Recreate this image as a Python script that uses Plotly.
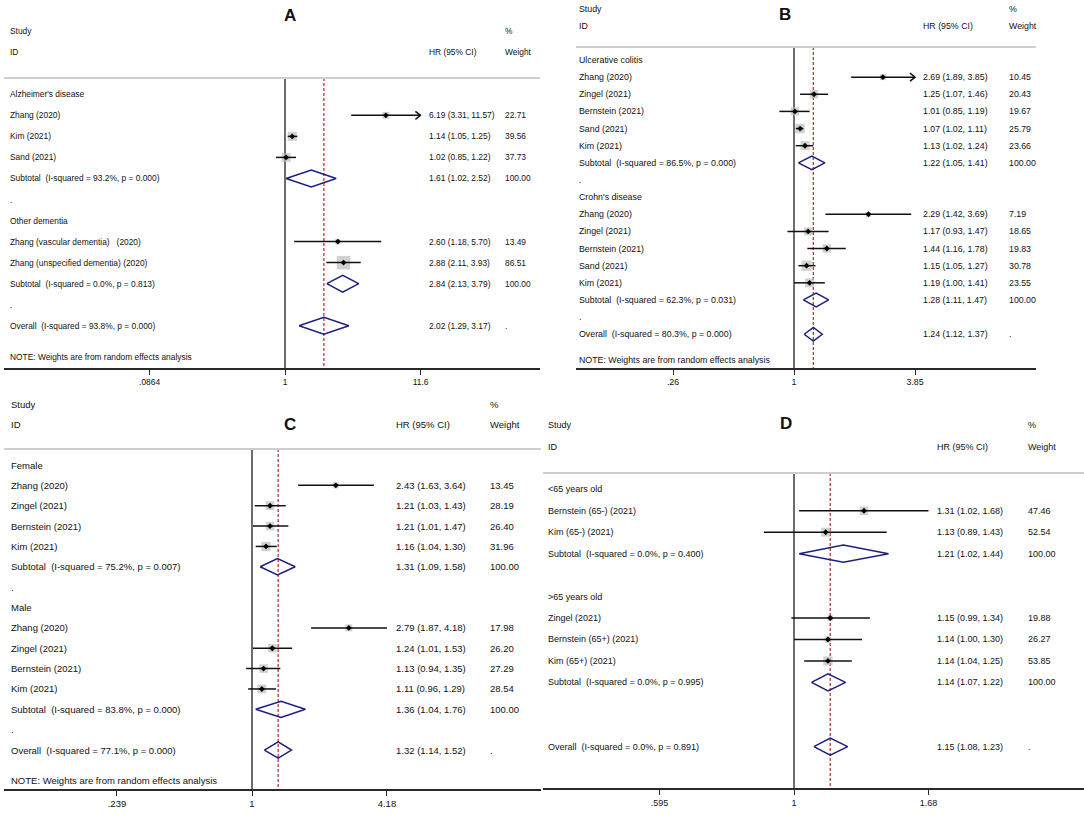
import math
import plotly.graph_objects as go

# ---------------- data ----------------
# A : dementia
A_labels = ["Alzheimer's disease", "Zhang (2020)", "Kim (2021)", "Sand (2021)",
            "Subtotal  (I-squared = 93.2%, p = 0.000)", ".", "Other dementia",
            "Zhang (vascular dementia)   (2020)", "Zhang (unspecified dementia) (2020)",
            "Subtotal  (I-squared = 0.0%, p = 0.813)", ".",
            "Overall  (I-squared = 93.8%, p = 0.000)"]
A_kind = ["h", "s", "s", "s", "t", "d", "h", "s", "s", "t", "d", "o"]
A_hr = [None, 6.19, 1.14, 1.02, 1.61, None, None, 2.60, 2.88, 2.84, None, 2.02]
A_lo = [None, 3.31, 1.05, 0.85, 1.02, None, None, 1.18, 2.11, 2.13, None, 1.29]
A_hi = [None, 11.57, 1.25, 1.22, 2.52, None, None, 5.70, 3.93, 3.79, None, 3.17]
A_wt = [None, 22.71, 39.56, 37.73, 100.00, None, None, 13.49, 86.51, 100.00, None, None]
A_ticks = [0.0864, 1, 11.6]
A_ticktext = [".0864", "1", "11.6"]

# B : IBD
B_labels = ["Ulcerative colitis", "Zhang (2020)", "Zingel (2021)", "Bernstein (2021)",
            "Sand (2021)", "Kim (2021)", "Subtotal  (I-squared = 86.5%, p = 0.000)", ".",
            "Crohn's disease", "Zhang (2020)", "Zingel (2021)", "Bernstein (2021)",
            "Sand (2021)", "Kim (2021)", "Subtotal  (I-squared = 62.3%, p = 0.031)", ".",
            "Overall  (I-squared = 80.3%, p = 0.000)"]
B_kind = ["h", "s", "s", "s", "s", "s", "t", "d", "h", "s", "s", "s", "s", "s", "t", "d", "o"]
B_hr = [None, 2.69, 1.25, 1.01, 1.07, 1.13, 1.22, None, None, 2.29, 1.17, 1.44, 1.15, 1.19, 1.28, None, 1.24]
B_lo = [None, 1.89, 1.07, 0.85, 1.02, 1.02, 1.05, None, None, 1.42, 0.93, 1.16, 1.05, 1.00, 1.11, None, 1.12]
B_hi = [None, 3.85, 1.46, 1.19, 1.11, 1.24, 1.41, None, None, 3.69, 1.47, 1.78, 1.27, 1.41, 1.47, None, 1.37]
B_wt = [None, 10.45, 20.43, 19.67, 25.79, 23.66, 100.00, None, None, 7.19, 18.65, 19.83, 30.78, 23.55, 100.00, None, None]
B_ticks = [0.26, 1, 3.85]
B_ticktext = [".26", "1", "3.85"]

# C : sex
C_labels = ["Female", "Zhang (2020)", "Zingel (2021)", "Bernstein (2021)", "Kim (2021)",
            "Subtotal  (I-squared = 75.2%, p = 0.007)", ".", "Male", "Zhang (2020)",
            "Zingel (2021)", "Bernstein (2021)", "Kim (2021)",
            "Subtotal  (I-squared = 83.8%, p = 0.000)", ".",
            "Overall  (I-squared = 77.1%, p = 0.000)"]
C_kind = ["h", "s", "s", "s", "s", "t", "d", "h", "s", "s", "s", "s", "t", "d", "o"]
C_hr = [None, 2.43, 1.21, 1.21, 1.16, 1.31, None, None, 2.79, 1.24, 1.13, 1.11, 1.36, None, 1.32]
C_lo = [None, 1.63, 1.03, 1.01, 1.04, 1.09, None, None, 1.87, 1.01, 0.94, 0.96, 1.04, None, 1.14]
C_hi = [None, 3.64, 1.43, 1.47, 1.30, 1.58, None, None, 4.18, 1.53, 1.35, 1.29, 1.76, None, 1.52]
C_wt = [None, 13.45, 28.19, 26.40, 31.96, 100.00, None, None, 17.98, 26.20, 27.29, 28.54, 100.00, None, None]
C_ticks = [0.239, 1, 4.18]
C_ticktext = [".239", "1", "4.18"]

# D : age
D_labels = ["<65 years old", "Bernstein (65-) (2021)", "Kim (65-) (2021)",
            "Subtotal  (I-squared = 0.0%, p = 0.400)", "", ">65 years old", "Zingel (2021)",
            "Bernstein (65+) (2021)", "Kim (65+) (2021)",
            "Subtotal  (I-squared = 0.0%, p = 0.995)", "", "",
            "Overall  (I-squared = 0.0%, p = 0.891)"]
D_kind = ["h", "s", "s", "t", "b", "h", "s", "s", "s", "t", "b", "b", "o"]
D_hr = [None, 1.31, 1.13, 1.21, None, None, 1.15, 1.14, 1.14, 1.14, None, None, 1.15]
D_lo = [None, 1.02, 0.89, 1.02, None, None, 0.99, 1.00, 1.04, 1.07, None, None, 1.08]
D_hi = [None, 1.68, 1.43, 1.44, None, None, 1.34, 1.30, 1.25, 1.22, None, None, 1.23]
D_wt = [None, 47.46, 52.54, 100.00, None, None, 19.88, 26.27, 53.85, 100.00, None, None, None]
D_ticks = [0.595, 1, 1.68]
D_ticktext = [".595", "1", "1.68"]

NOTE = "NOTE: Weights are from random effects analysis"

# ---------------- styling / placement (pixels) ----------------
W, H = 1084, 815
FONT = "Liberation Sans"
INK = "#111111"
NAVY = "#1c1f7e"
RED = "#b83a3a"
BOXGREY = "#bdbdbd"


def fx(px):
    return px / W


def fy(py):
    return 1 - py / H


panels = [
    dict(tag="A", labels=A_labels, kind=A_kind, hr=A_hr, lo=A_lo, hi=A_hi, wt=A_wt,
         ticks=A_ticks, ticktext=A_ticktext, arrows=[1],
         box=(4, 540, 78, 368), one=285, scale=55.31, row0=94.3, dy=21.04, fs=8.4,
         cols=(8, 427, 503), head_y=(31, 52), title_xy=(290, 15), note_y=357, k=1.45),
    dict(tag="B", labels=B_labels, kind=B_kind, hr=B_hr, lo=B_lo, hi=B_hi, wt=B_wt,
         ticks=B_ticks, ticktext=B_ticktext, arrows=[1],
         box=(576, 1036, 47, 368), one=794, scale=89.8, row0=60.0, dy=17.14, fs=8.8,
         cols=(577, 921, 1007), head_y=(9, 26), title_xy=(785, 14), note_y=360, k=1.85),
    dict(tag="C", labels=C_labels, kind=C_kind, hr=C_hr, lo=C_lo, hi=C_hi, wt=C_wt,
         ticks=C_ticks, ticktext=C_ticktext, arrows=[],
         box=(4, 541, 449, 789), one=252, scale=94.35, row0=465.0, dy=20.36, fs=9.5,
         cols=(9, 394, 488), head_y=(404, 424), title_xy=(290, 424), note_y=780, k=1.65),
    dict(tag="D", labels=D_labels, kind=D_kind, hr=D_hr, lo=D_lo, hi=D_hi, wt=D_wt,
         ticks=D_ticks, ticktext=D_ticktext, arrows=[],
         box=(543, 1084, 473, 788), one=794, scale=259.2, row0=489.3, dy=21.45, fs=9.0,
         cols=(546, 935, 1026), head_y=(425, 447), title_xy=(786, 423), note_y=None, k=1.25),
]

fig = go.Figure()
annotations = []
shapes = []
LN10 = math.log(10)


def txt(x, y, s, size, xref="paper", yref="paper", bold=False, anchor="left"):
    if bold:
        s = "<b>" + s + "</b>"
    annotations.append(dict(x=x, y=y, xref=xref, yref=yref, text=s, showarrow=False,
                            xanchor=anchor, yanchor="middle",
                            font=dict(family=FONT, size=size, color=INK)))


for i, p in enumerate(panels, start=1):
    sfx = "" if i == 1 else str(i)
    xr, yr = "x" + sfx, "y" + sfx
    x0, x1, y0, y1 = p["box"]
    xrange = [(x0 - p["one"]) / p["scale"] / LN10, (x1 - p["one"]) / p["scale"] / LN10]
    rtop = (y0 - p["row0"]) / p["dy"]
    rbot = (y1 - p["row0"]) / p["dy"]

    fig.update_layout({
        "xaxis" + sfx: dict(type="log", range=xrange, domain=[fx(x0), fx(x1)], anchor=yr,
                            showline=True, linecolor="#2a2a2a", linewidth=1.5,
                            ticks="outside", ticklen=5, tickwidth=1.3, tickcolor="#2a2a2a",
                            tickvals=p["ticks"], ticktext=p["ticktext"],
                            tickfont=dict(family=FONT, size=p["fs"], color=INK),
                            showgrid=False, zeroline=False, fixedrange=True),
        "yaxis" + sfx: dict(range=[rbot, rtop], domain=[fy(y1), fy(y0)], anchor=xr,
                            visible=False, fixedrange=True),
    })

    # grey rule under the column headers
    shapes.append(dict(type="line", xref=xr + " domain", yref=yr + " domain",
                       x0=0, x1=1, y0=1, y1=1, line=dict(color="#cfcfcf", width=2)))

    common = dict(xaxis=xr, yaxis=yr, hoverinfo="skip", showlegend=False)
    ov = [h for h, k in zip(p["hr"], p["kind"]) if k == "o"][0]

    # null line and overall effect line
    fig.add_trace(go.Scatter(x=[1, 1], y=[rtop, rbot], mode="lines",
                             line=dict(color="#3c3c3c", width=1.5), **common))
    fig.add_trace(go.Scatter(x=[ov, ov], y=[rtop, rbot], mode="lines",
                             line=dict(color=RED, width=1.3, dash="3px,2px"), **common))

    st = [j for j, k in enumerate(p["kind"]) if k == "s"]

    # weight boxes
    fig.add_trace(go.Scatter(x=[p["hr"][j] for j in st], y=st, mode="markers",
                             marker=dict(symbol="square", color=BOXGREY,
                                         size=[p["k"] * math.sqrt(p["wt"][j]) for j in st],
                                         line=dict(width=0)), **common))

    # confidence intervals
    cx, cy = [], []
    tmax = p["ticks"][-1]
    for j in st:
        hi = min(p["hi"][j], tmax) if j in p["arrows"] else p["hi"][j]
        cx += [p["lo"][j], hi, None]
        cy += [j, j, None]
        if j in p["arrows"]:
            back = hi / math.exp(5 / p["scale"])
            hh = 4 / p["dy"]
            cx += [back, hi, back, None]
            cy += [j - hh, j, j + hh, None]
    fig.add_trace(go.Scatter(x=cx, y=cy, mode="lines",
                             line=dict(color="#111111", width=1.5), **common))

    # point estimates
    fig.add_trace(go.Scatter(x=[p["hr"][j] for j in st], y=st, mode="markers",
                             marker=dict(symbol="diamond", size=4.5, color="#000000"), **common))

    # pooled diamonds
    dx, dyy = [], []
    for j, k in enumerate(p["kind"]):
        if k in ("t", "o"):
            hh = 0.4
            dx += [p["lo"][j], p["hr"][j], p["hi"][j], p["hr"][j], p["lo"][j], None]
            dyy += [j, j - hh, j, j + hh, j, None]
    fig.add_trace(go.Scatter(x=dx, y=dyy, mode="lines",
                             line=dict(color=NAVY, width=1.5), **common))

    # text columns
    fs = p["fs"]
    lx, hx, wx = p["cols"]
    for j, lab in enumerate(p["labels"]):
        if lab:
            txt(fx(lx), j, lab.replace("  ", " \u00a0"), fs, yref=yr)
        if p["hr"][j] is not None:
            txt(fx(hx), j, "%.2f (%.2f, %.2f)" % (p["hr"][j], p["lo"][j], p["hi"][j]), fs, yref=yr)
            if p["wt"][j] is not None:
                txt(fx(wx), j, "%.2f" % p["wt"][j], fs, yref=yr)
            else:
                txt(fx(wx), j, ".", fs, yref=yr)

    # headers
    hy1, hy2 = p["head_y"]
    txt(fx(lx), fy(hy1), "Study", fs)
    txt(fx(lx), fy(hy2), "ID", fs)
    txt(fx(hx), fy(hy2), "HR (95% CI)", fs)
    txt(fx(wx), fy(hy1), "%", fs)
    txt(fx(wx), fy(hy2), "Weight", fs)
    if p["note_y"] is not None:
        txt(fx(lx), fy(p["note_y"]), NOTE, fs)
    tx, ty = p["title_xy"]
    txt(fx(tx), fy(ty), p["tag"], 17, bold=True, anchor="center")

fig.update_layout(width=W, height=H, margin=dict(l=0, r=0, t=0, b=0),
                  paper_bgcolor="white", plot_bgcolor="white", showlegend=False,
                  font=dict(family=FONT, color=INK),
                  annotations=annotations, shapes=shapes)

# page body margin would push the fixed-size figure off by 8px
fig.write_html("out.html", config={"displayModeBar": False},
               post_script="document.body.style.margin='0';")
